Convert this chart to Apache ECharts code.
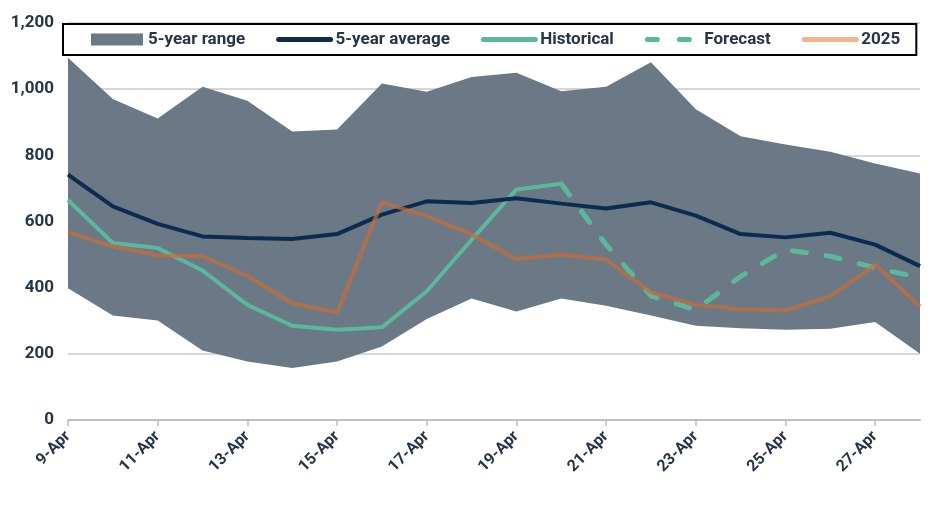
<!DOCTYPE html>
<html>
<head>
<meta charset="utf-8">
<script src="https://cdn.jsdelivr.net/npm/echarts@6/dist/echarts.min.js"></script>
<style>html,body{margin:0;padding:0;background:#fff}#c{width:950px;height:518px}</style>
</head>
<body>
<div id="c"></div>
<script>
var categories = ['9-Apr','10-Apr','11-Apr','12-Apr','13-Apr','14-Apr','15-Apr','16-Apr','17-Apr','18-Apr','19-Apr','20-Apr','21-Apr','22-Apr','23-Apr','24-Apr','25-Apr','26-Apr','27-Apr','28-Apr'];
var rangeLow  = [398, 316, 301, 210, 177, 157, 177, 222, 305, 367, 328, 367, 345, 316, 285, 277, 273, 276, 296, 200];
var rangeHigh = [1095, 970, 911, 1007, 965, 872, 878, 1017, 992, 1037, 1050, 994, 1007, 1081, 939, 858, 833, 811, 775, 745];
var avg5      = [742, 646, 593, 555, 550, 547, 562, 621, 661, 656, 670, 654, 639, 658, 618, 562, 552, 566, 530, 465];
var historical= [665, 535, 520, 452, 348, 285, 273, 280, 389, 545, 697, 714, null, null, null, null, null, null, null, null];
var forecast  = [null, null, null, null, null, null, null, null, null, null, null, 714, 530, 375, 333, 434, 515, 495, 460, 430];
var y2025     = [568, 525, 497, 495, 436, 353, 325, 658, 616, 561, 487, 500, 485, 386, 348, 335, 331, 374, 470, 343];

var rangeDiff = rangeHigh.map(function(v, i){ return v - rangeLow[i]; });
var txt = '#253546';
var hide = {opacity: 0};
var chart = echarts.init(document.getElementById('c'));
chart.setOption({
  animation: false,
  grid: {left: 68, right: 30, top: 23, bottom: 98},
  legend: {
    left: 63, top: 24,
    padding: [7, 16, 7, 28],
    itemGap: 31, itemWidth: 52, itemHeight: 12,
    backgroundColor: '#fff', borderColor: '#000', borderWidth: 2,
    textStyle: {fontFamily: 'Roboto', fontWeight: 'bold', fontSize: 17, color: txt},
    data: [
      {name: '5-year range', icon: 'rect', itemStyle: {color: '#6b7886'}},
      {name: '5-year average', itemStyle: hide, lineStyle: {width: 5, cap: 'round'}},
      {name: 'Historical', itemStyle: hide, lineStyle: {width: 5, cap: 'round'}},
      {name: 'Forecast', itemStyle: hide, lineStyle: {width: 5, cap: 'round', type: [10, 22]}},
      {name: '2025', itemStyle: hide, lineStyle: {width: 5, cap: 'round', color: '#f2b48c', opacity: 1}}
    ],
    z: 10
  },
  xAxis: {
    type: 'category', data: categories, boundaryGap: false,
    axisLine: {lineStyle: {color: '#bfbfbf', width: 2}},
    axisTick: {interval: 1, length: 6, lineStyle: {color: '#bfbfbf', width: 1.5}},
    axisLabel: {interval: 1, rotate: 45, fontFamily: 'Roboto', fontWeight: 'bold', fontSize: 16, color: txt, margin: 14}
  },
  yAxis: {
    type: 'value', min: 0, max: 1200, interval: 200,
    axisLine: {show: false}, axisTick: {show: false},
    splitLine: {lineStyle: {color: '#c8c8c8', width: 1.5}},
    axisLabel: {fontFamily: 'Roboto', fontWeight: 'bold', fontSize: 17, color: txt, margin: 14}
  },
  series: [
    {name: 'rangeBase', type: 'line', stack: 'range', data: rangeLow, symbol: 'none',
     lineStyle: {opacity: 0}, silent: true, z: 1},
    {name: '5-year range', type: 'line', stack: 'range', data: rangeDiff, symbol: 'none',
     lineStyle: {opacity: 0}, itemStyle: {color: '#6b7886'},
     areaStyle: {color: '#6b7886', opacity: 1}, z: 1},
    {name: '5-year average', type: 'line', data: avg5, symbol: 'none',
     itemStyle: {color: '#0c2b4f'}, lineStyle: {color: '#0c2b4f', width: 4}, z: 4},
    {name: 'Historical', type: 'line', data: historical, symbol: 'none',
     itemStyle: {color: '#5cb89c'}, lineStyle: {color: '#5cb89c', width: 4}, z: 3},
    {name: 'Forecast', type: 'line', data: forecast, symbol: 'none',
     itemStyle: {color: '#5cb89c'}, lineStyle: {color: '#5cb89c', width: 5, type: [14, 20], cap: 'round'}, z: 3},
    {name: '2025', type: 'line', data: y2025, symbol: 'none',
     itemStyle: {color: '#f2b48c'}, lineStyle: {color: '#c56d39', width: 4, opacity: 0.72}, z: 5}
  ]
});
</script>
</body>
</html>
